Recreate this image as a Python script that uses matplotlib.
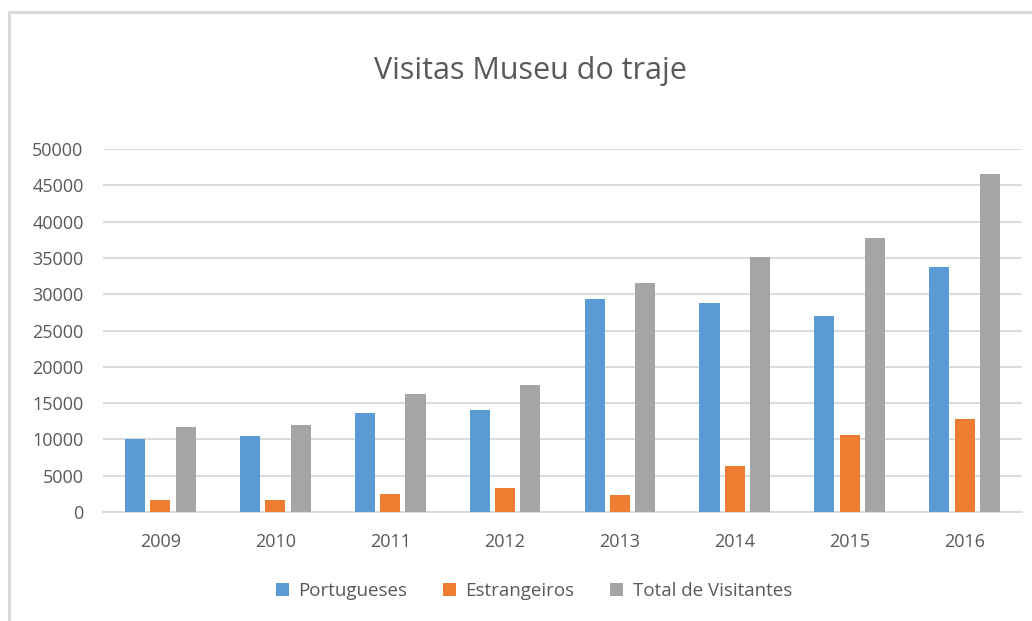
import matplotlib
matplotlib.use("Agg")
import matplotlib.pyplot as plt
import numpy as np
from matplotlib.lines import Line2D
from matplotlib.patches import Patch

years = ["2009", "2010", "2011", "2012", "2013", "2014", "2015", "2016"]
portugueses = [10100, 10500, 13700, 14000, 29300, 28800, 27000, 33700]
estrangeiros = [1650, 1650, 2450, 3300, 2350, 6300, 10600, 12800]
total = [11750, 12050, 16300, 17500, 31500, 35100, 37700, 46500]
yticks = [0, 5000, 10000, 15000, 20000, 25000, 30000, 35000, 40000, 45000, 50000]

series = [("Portugueses", portugueses, "#5B9BD5"),
          ("Estrangeiros", estrangeiros, "#ED7D31"),
          ("Total de Visitantes", total, "#A5A5A5")]

plt.rcParams['font.family'] = ['Open Sans', 'DejaVu Sans']
W, H = 1032, 621
fig = plt.figure(figsize=(W / 100, H / 100), dpi=100)
ax = fig.add_axes([103 / W, 1 - 512 / H, (1022 - 103) / W, (512 - 149) / H])

x = np.arange(len(years))
bw = 0.175
offs = [-0.22, 0.0, 0.22]
for (name, vals, col), o in zip(series, offs):
    ax.bar(x + o, vals, width=bw, color=col, label=name, zorder=3)

ax.set_xlim(-0.5, len(years) - 0.5)
ax.set_ylim(0, 50000)
ax.set_yticks(yticks)
ax.set_yticklabels([str(v) for v in yticks])
ax.set_xticks(x)
ax.set_xticklabels(years)
ax.grid(axis='y', color='#D9D9D9', linewidth=1.3, zorder=0)
for s in ['top', 'right', 'left']:
    ax.spines[s].set_visible(False)
ax.spines['bottom'].set_color('#D9D9D9')
ax.spines['bottom'].set_linewidth(1.3)
ax.tick_params(axis='both', length=0, labelsize=13, labelcolor='#595959')
ax.tick_params(axis='y', pad=14)
ax.tick_params(axis='x', pad=15)

fig.text(530 / W, 1 - 71 / H, "Visitas Museu do traje", ha='center', va='center',
         fontsize=22, color='#595959')

handles = [Patch(facecolor=c, label=n) for n, _, c in series]
fig.legend(handles=handles, loc='center', bbox_to_anchor=(534 / W, 1 - 591 / H),
           ncol=3, frameon=False, fontsize=13.5, labelcolor='#595959',
           handlelength=0.7, handleheight=0.7, handletextpad=0.5, columnspacing=1.9)

# chart frame
fig.add_artist(Line2D([8.5 / W, 8.5 / W], [0, 1 - 12 / H], color='#D9D9D9', linewidth=2.2))
fig.add_artist(Line2D([8.5 / W, 1], [1 - 12 / H, 1 - 12 / H], color='#D9D9D9', linewidth=2.2))

fig.savefig("out.png", dpi=100)
